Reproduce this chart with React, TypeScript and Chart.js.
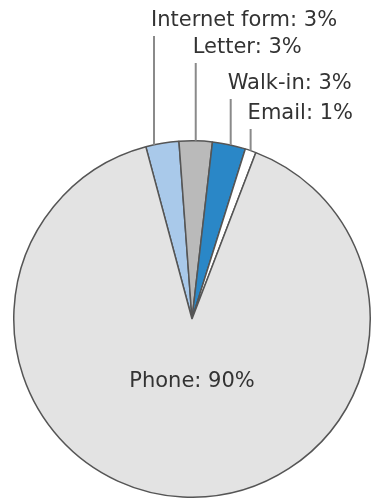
import React, { useEffect, useRef } from "react";
import { Chart, registerables } from "chart.js";

Chart.register(...registerables);

const categories = ["Internet form", "Letter", "Walk-in", "Email", "Phone"];
const shares = [3, 3, 3, 1, 90];
const sliceColors = ["#a9c9ea", "#bababa", "#2a87c7", "#ffffff", "#e3e3e3"];

// label layout: y of leader-line top (px) for outside labels; null => inside label
const leaderTops = [36, 63, 99, 129, null];
// where along each slice's arc the leader line starts (0 = start, 1 = end)
const leaderFrac = [0.25, 0.5, 0.55, 0.5, 0.5];

const FONT = "21px 'DejaVu Sans', sans-serif";

const labelPlugin = {
  id: "pieLabels",
  afterDatasetsDraw(chart: any) {
    const ctx = chart.ctx;
    const meta = chart.getDatasetMeta(0);
    ctx.save();
    ctx.font = FONT;
    ctx.fillStyle = "#333333";
    meta.data.forEach((arc: any, i: number) => {
      const p = arc.getProps(["x", "y", "startAngle", "endAngle", "outerRadius"], true);
      const ang = p.startAngle + (p.endAngle - p.startAngle) * leaderFrac[i];
      const text = `${categories[i]}: ${shares[i]}%`;
      const top = leaderTops[i];
      if (top === null) {
        ctx.textAlign = "center";
        ctx.textBaseline = "middle";
        ctx.fillText(text, p.x, p.y + 63);
        return;
      }
      const ex = p.x + Math.cos(ang) * p.outerRadius;
      const ey = p.y + Math.sin(ang) * p.outerRadius;
      ctx.strokeStyle = "#8a8a8a";
      ctx.lineWidth = 2;
      ctx.beginPath();
      ctx.moveTo(ex, ey);
      ctx.lineTo(ex, top);
      ctx.stroke();
      ctx.textAlign = "left";
      ctx.textBaseline = "middle";
      ctx.fillText(text, ex - 3, top - 15);
    });
    ctx.restore();
  },
};

export default function App() {
  const ref = useRef<HTMLCanvasElement>(null);
  useEffect(() => {
    document.body.style.margin = "0";
    const chart = new Chart(ref.current!, {
      type: "pie",
      data: {
        labels: categories,
        datasets: [
          {
            data: shares,
            backgroundColor: sliceColors,
            borderColor: "#555555",
            borderWidth: 1.5,
          },
        ],
      },
      options: {
        animation: false,
        responsive: false,
        rotation: -15,
        layout: { padding: { left: 13, right: 0, top: 140, bottom: 2 } },
        plugins: { legend: { display: false }, tooltip: { enabled: false } },
      },
      plugins: [labelPlugin],
    });
    return () => chart.destroy();
  }, []);
  return (
    <div style={{ position: "absolute", left: 0, top: 0, width: 371, height: 500, background: "#fff" }}>
      <canvas ref={ref} width={371} height={500} style={{ width: 371, height: 500 }} />
    </div>
  );
}
